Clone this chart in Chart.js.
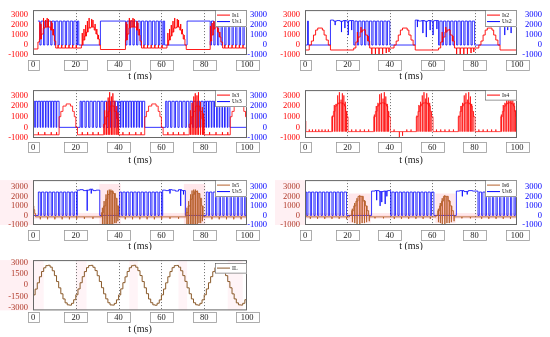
<!DOCTYPE html>
<html>
<head>
<meta charset="utf-8">
<script src="https://cdn.jsdelivr.net/npm/chart.js@4.4.0/dist/chart.umd.min.js"></script>
<style>
  body { margin: 0; background: #fff; width: 550px; height: 337px; position: relative; overflow: hidden; }
  .panel { position: absolute; }
</style>
</head>
<body>
<div class="panel" style="left:0;top:0;width:275px;height:80px"><canvas id="c1"></canvas></div>
<div class="panel" style="left:275px;top:0;width:275px;height:80px"><canvas id="c2"></canvas></div>
<div class="panel" style="left:0;top:80px;width:275px;height:90px"><canvas id="c3"></canvas></div>
<div class="panel" style="left:275px;top:80px;width:275px;height:90px"><canvas id="c4"></canvas></div>
<div class="panel" style="left:0;top:170px;width:275px;height:80px"><canvas id="c5"></canvas></div>
<div class="panel" style="left:275px;top:170px;width:275px;height:80px"><canvas id="c6"></canvas></div>
<div class="panel" style="left:0;top:250px;width:275px;height:87px"><canvas id="c7"></canvas></div>
<script>
// tick values
const xTicks = [0, 20, 40, 60, 80, 100];
const iuTicks = [3000, 2000, 1000, 0, -1000];
const ilTicks = [3000, 1500, 0, -1500, -3000];

// step data: [t (ms), level from t on]; spikes: [t, to] or [t, up, down]
const is1Steps = [[0,-400],[2.3,300],[3.0,600],[3.9,1100],[4.8,1700],[5.6,1800],[8.3,1500],[9.2,1000],[10.0,400],[10.6,-300],
  [22.6,0],[23.4,500],[24.2,900],[25.0,1300],[25.8,1700],[27.0,1800],[28.6,1500],[29.4,1100],[30.2,600],[31.0,0],[31.5,-450],
  [43.2,500],[44.0,1100],[44.8,1700],[45.6,1800],[48.4,1500],[49.2,1000],[50.0,400],[50.7,-300],
  [62.6,0],[63.4,500],[64.2,900],[65.0,1300],[65.8,1700],[67.0,1800],[68.6,1500],[69.4,1100],[70.2,600],[71.0,0],[71.6,-450],
  [82.8,400],[83.5,1000],[84.3,1600],[85.0,1800],[86.2,1300],[87.0,800],[87.8,300],[88.6,-300],[100,-300]];
const is1Spikes = [[3.2,2300],[3.7,2100],[4.9,2700],[5.8,2500],[6.6,2700],[7.2,2600],[8.5,2400],[8.9,2200],[9.6,1600],
  [11.7,0],[13.4,0],[15.1,0],[16.8,0],[18.5,0],[20.2,0],
  [23.0,1200],[23.8,1600],[24.6,2000],[25.4,2400],[26.2,2700],[27.4,2600],[28.0,2500],[29.0,2100],[29.8,1600],[30.6,1000],
  [43.5,2300],[43.9,2100],[45.0,2700],[45.8,2500],[46.7,2700],[47.3,2600],[48.6,2400],[49.0,2200],[49.7,1600],
  [51.8,0],[53.5,0],[55.2,0],[56.9,0],[58.6,0],[60.3,0],
  [63.0,1200],[63.8,1600],[64.6,2000],[65.4,2400],[66.2,2700],[67.4,2600],[68.0,2500],[69.0,2100],[69.8,1600],[70.6,1000],
  [82.9,1900],[83.7,2200],[84.5,2400],[85.1,2300],[85.7,2100],[86.5,1700],[87.3,1300],
  [89.6,0],[91.3,0],[93.0,0],[94.7,0],[96.4,0],[98.1,0]];
const us1Steps = [[2.3,2400],[3.2,0],[3.8,2400],[4.9,0],[5.5,2400],[6.6,0],[7.2,2400],[8.3,0],[8.9,2400],[10.0,0],[10.6,2400],[11.7,0],
  [12.3,2400],[13.4,0],[14.0,2400],[15.1,0],[15.7,2400],[16.8,0],[17.4,2400],[18.5,0],[19.1,2400],[20.2,0],[20.8,2400],[21.4,0],
  [31.5,2400],[43.3,0],[43.9,2400],[45.0,0],[45.6,2400],[46.7,0],[47.3,2400],[48.4,0],[49.0,2400],[50.1,0],[50.7,2400],[51.8,0],
  [52.4,2400],[53.5,0],[54.1,2400],[55.2,0],[55.8,2400],[56.9,0],[57.5,2400],[58.6,0],[59.2,2400],[60.3,0],[60.9,2400],[61.5,0],
  [72.0,2400],[82.8,0],[83.4,2400],[84.5,0],[85.1,2400],[86.2,0],[86.8,2000],[87.9,0],[88.5,2000],[89.6,0],[90.2,2000],[91.3,0],
  [91.9,2000],[93.0,0],[93.6,2000],[94.7,0],[95.3,2000],[96.4,0],[97.0,2000],[98.1,0],[98.7,2000],[99.8,0],[100,0]];

const is2Steps = [[0,-500],[2.0,0],[3.0,400],[4.0,1000],[5.0,1500],[6.0,1700],[8.2,1500],[9.0,1000],[10.0,500],[11.0,0],[12.0,-500],
  [23.0,-300],[24.0,300],[25.0,800],[26.0,1300],[27.0,1500],[28.5,1000],[29.5,400],[30.5,-300],
  [42.0,0],[43.0,400],[44.0,1000],[45.0,1500],[46.0,1700],[48.2,1500],[49.0,1000],[50.0,500],[51.0,0],[52.0,-500],
  [63.0,-300],[64.0,300],[65.0,800],[66.0,1300],[67.0,1500],[68.5,1000],[69.5,400],[70.5,-300],
  [82.0,0],[83.0,400],[84.0,1000],[85.0,1500],[86.0,1700],[88.2,1500],[89.0,1000],[90.0,500],[91.0,0],[92.0,-500],[100,-500]];
const is2Spikes = [[24.7,1300],[26.4,1800],[28.1,1600],[29.8,900],[31.5,-900],[33.2,-1000],[34.9,-900],[36.6,-1000],[38.3,-800],[39.6,-700],
  [64.7,1300],[66.4,1800],[68.1,1600],[69.8,900],[71.5,-900],[73.2,-1000],[74.9,-900],[76.6,-1000],[78.3,-800],[79.6,-700]];
const us2Steps = [[0,0],[1.2,2400],[1.6,0],[12.0,2500],[13.5,2400],[15.0,2450],[16.5,2380],[18.0,2450],[19.5,2400],[21.0,2450],
  [23.0,0],[23.6,2400],[24.7,0],[25.3,2400],[26.4,0],[27.0,2400],[28.1,0],[28.7,2400],[29.8,0],[30.4,2400],[31.5,0],[32.1,2400],
  [33.2,0],[33.8,2400],[34.9,0],[35.5,2400],[36.6,0],[37.2,2400],[38.3,0],[38.9,2400],[40.0,0],
  [52.0,2500],[53.5,2400],[55.0,2450],[56.5,2380],[58.0,2450],[59.5,2400],[61.0,2450],
  [63.0,0],[63.6,2400],[64.7,0],[65.3,2400],[66.4,0],[67.0,2400],[68.1,0],[68.7,2400],[69.8,0],[70.4,2400],[71.5,0],[72.1,2400],
  [73.2,0],[73.8,2400],[74.9,0],[75.5,2400],[76.6,0],[77.2,2400],[78.3,0],[78.9,2400],[80.0,0],
  [92.0,2500],[93.5,2400],[95.0,2450],[96.5,2380],[98.0,2450],[100,2450]];
const us2Spikes = [[14.2,2000],[17.2,1300],[18.8,1700],[20.4,1000],[22.0,1500],[53.0,1800],[55.6,1200],[57.2,800],[59.0,1500],
  [60.4,1000],[62.2,1600],[94.2,1000],[95.6,1500],[97.2,1200],[99.0,1800]];

const is3Steps = [[0,-700],[12.2,1000],[13.0,1500],[14.0,2000],[15.5,2200],[17.5,2000],[18.5,1500],[19.3,1000],[20.0,0],[20.8,-700],
  [33.0,300],[34.0,1000],[35.0,1500],[36.0,2000],[38.0,1500],[39.0,800],[40.0,-700],
  [52.2,1000],[53.0,1500],[54.0,2000],[55.5,2200],[57.5,2000],[58.5,1500],[59.3,1000],[60.0,0],[60.8,-700],
  [73.0,300],[74.0,1000],[75.0,1500],[76.0,2000],[78.0,1500],[79.0,800],[80.0,-700],
  [92.2,1000],[93.0,1500],[94.0,2000],[95.5,2200],[97.5,2000],[98.5,1500],[99.3,1000],[100,200]];
const is3Spikes = [[2.5,-450],[5.5,-450],[8.5,-450],[11.0,-450],[23.0,-450],[25.5,-450],[28.0,-450],[30.5,-450],
  [33.5,1600,-700],[34.3,2400,-700],[35.1,2800,-700],[35.8,3300,-700],[36.6,2900,-700],[37.3,3200,-700],
  [38.2,2500,-700],[39.1,2000,-700],[39.7,1400,-700],
  [42.0,-450],[45.0,-450],[48.0,-450],[50.5,-450],[63.0,-450],[65.5,-450],[68.0,-450],[70.5,-450],
  [73.5,1600,-700],[74.3,2300,-700],[75.1,2900,-700],[75.8,3200,-700],[76.6,3000,-700],[77.3,3300,-700],
  [78.2,2400,-700],[79.1,1900,-700],[79.7,1300,-700],
  [82.5,-450],[85.5,-450],[88.5,-450],[91.0,-450]];
const us3Steps = [[0,2450],[0.8,0],[1.1,2450],[2.0,0],[2.3,2450],[3.3,0],[3.6,2450],[4.5,0],[4.8,2450],[5.8,0],[6.1,2450],[7.0,0],
  [7.3,2450],[8.3,0],[8.6,2450],[9.5,0],[9.8,2450],[10.8,0],[11.1,2450],[12.2,0],
  [22.0,2450],[22.6,0],[23.2,2450],[24.3,0],[24.9,2450],[26.0,0],[26.6,2450],[27.7,0],[28.3,2450],[29.4,0],[30.0,2450],[31.1,0],
  [31.7,2450],[32.8,0],[33.4,2450],[34.5,0],[35.1,2450],[36.2,0],[36.8,2450],[37.9,0],[38.5,2450],[39.5,0],[40.0,2450],
  [40.8,0],[41.1,2450],[42.0,0],[42.3,2450],[43.3,0],[43.6,2450],[44.5,0],[44.8,2450],[45.8,0],[46.1,2450],[47.0,0],[47.3,2450],
  [48.3,0],[48.6,2450],[49.5,0],[49.8,2450],[50.8,0],[51.1,2450],[52.2,0],
  [62.0,2450],[62.6,0],[63.2,2450],[64.3,0],[64.9,2450],[66.0,0],[66.6,2450],[67.7,0],[68.3,2450],[69.4,0],[70.0,2450],[71.1,0],
  [71.7,2450],[72.8,0],[73.4,2450],[74.5,0],[75.1,2450],[76.2,0],[76.8,2450],[77.9,0],[78.5,2450],[79.5,0],[80.0,2450],
  [80.8,0],[81.1,2450],[82.0,0],[82.3,2450],[83.3,0],[83.6,2450],[84.5,0],[84.8,2450],[85.8,0],[86.1,2450],[87.0,0],[87.3,2450],
  [88.3,0],[88.6,2450],[89.5,0],[89.8,2450],[90.8,0],[91.1,2450],[92.0,0],[100,0]];

const is4Steps = [[0,600],[0.4,-400],
  [12.6,1000],[13.4,1500],[14.2,2000],[15.0,2200],[15.8,2300],[17.8,2200],[18.6,2000],[19.2,1500],[19.8,1000],[20.3,-400],
  [32.4,1000],[33.2,1500],[34.0,2000],[34.8,2200],[35.6,2300],[37.6,2200],[38.4,2000],[39.0,1500],[39.6,1000],[40.2,-400],
  [52.5,1000],[53.3,1500],[54.1,2000],[54.9,2200],[55.7,2300],[57.7,2200],[58.5,2000],[59.1,1500],[59.7,1000],[60.4,-400],
  [72.3,1000],[73.1,1500],[73.9,2000],[74.7,2200],[75.5,2300],[77.5,2200],[78.3,2000],[78.9,1500],[79.5,1000],[80.2,-400],
  [92.3,1000],[93.1,1500],[93.9,2000],[94.7,2200],[95.5,2300],[97.5,2200],[98.3,2000],[98.9,1500],[99.5,1000],[100,1000]];
const is4Spikes = [[2.0,-200],[3.5,-200],[5.0,-200],[6.5,-200],[8.0,-200],[9.5,-200],[11.0,-200],
  [12.9,1100,-400],[13.8,2100,-400],[14.6,2200,-400],[15.4,3000,-400],[16.2,3300,-400],[17.0,2600,-400],[17.6,3200,-400],
  [18.3,3000,-400],[19.0,2400,-400],[19.5,1500,-400],
  [22.0,-200],[24.0,-200],[26.0,-200],[28.0,-200],[30.0,-200],
  [32.7,1200,-400],[33.6,2000,-400],[34.4,2300,-400],[35.2,3100,-400],[36.0,3200,-400],[36.8,2700,-400],[37.4,3300,-400],
  [38.1,2900,-400],[38.8,2200,-400],[39.3,1500,-400],
  [42.0,-200],[44.5,-1000],[46.0,-800],[48.0,-200],[50.0,-200],
  [52.8,1100,-400],[53.7,2100,-400],[54.5,2400,-400],[55.3,3000,-400],[56.1,3300,-400],[56.9,2700,-400],[57.4,3200,-400],
  [58.2,2800,-400],[58.8,2300,-400],[59.4,1400,-400],
  [62.0,-200],[64.0,-200],[66.0,-200],[68.0,-200],[70.0,-200],
  [72.6,1100,-400],[73.5,2000,-400],[74.3,2300,-400],[75.1,3000,-400],[75.9,3200,-400],[76.7,2600,-400],[77.2,3300,-400],
  [78.0,2900,-400],[78.6,2200,-400],[79.2,1500,-400],
  [82.0,-200],[84.0,-200],[86.0,-200],[88.0,-200],[90.0,-200],
  [92.6,1200,-400],[93.5,2100,-400],[94.3,2300,-400],[95.1,3000,-400],[95.9,3300,-400],[96.7,2700,-400],[97.2,3200,-400],
  [98.0,2900,-400],[98.6,2300,-400],[99.2,1600,-400]];

const is5Steps = [[0,1000],[0.4,600],[0.8,200],[1.2,-150],
  [32.0,300],[33.0,1000],[34.0,1700],[35.0,2200],[36.0,2500],[37.5,2300],[38.5,1800],[39.3,1000],[40.0,-150],
  [71.5,300],[72.5,1000],[73.5,1700],[74.5,2200],[75.5,2500],[77.0,2300],[78.0,1800],[78.8,1000],[79.5,-150],[100,-150]];
const is5Spikes = [[3.4,-400],[6.8,-400],[10.2,-400],[13.6,-400],[17.0,-400],[20.4,-400],[24.0,-350],[28.0,-350],
  [32.4,800,-900],[33.2,1500,-900],[34.1,2200,-1000],[34.8,2600,-900],[35.6,2700,-1000],[36.4,2700,-900],[37.2,2600,-900],
  [38.1,2300,-800],[38.8,1600,-800],[39.6,900,-600],
  [43.1,-400],[46.5,-400],[49.9,-400],[53.3,-400],[56.7,-400],[60.1,-400],[64.0,-350],[68.0,-350],
  [71.9,800,-900],[72.7,1500,-900],[73.6,2200,-1000],[74.3,2600,-900],[75.1,2700,-1000],[75.9,2700,-900],[76.7,2600,-900],
  [77.5,2300,-800],[78.3,1600,-800],[79.1,900,-600],
  [83.6,-400],[87.0,-400],[90.4,-400],[93.8,-400],[97.2,-400]];
const us5Steps = [[0,0],[2.5,2450],[3.4,0],[4.0,2450],[5.1,0],[5.7,2450],[6.8,0],[7.4,2450],[8.5,0],[9.1,2450],[10.2,0],[10.8,2450],
  [11.9,0],[12.5,2450],[13.6,0],[14.2,2450],[15.3,0],[15.9,2450],[17.0,0],[17.6,2450],[18.7,0],[19.3,2450],[20.4,0],
  [20.7,2650],[22.0,2700],[23.5,2600],[25.0,2650],[26.5,2750],[28.0,2600],[29.5,2650],[31.2,0],
  [40.5,2450],[41.4,0],[42.0,2450],[43.1,0],[43.7,2450],[44.8,0],[45.4,2450],[46.5,0],[47.1,2450],[48.2,0],[48.8,2450],[49.9,0],
  [50.5,2450],[51.6,0],[52.2,2450],[53.3,0],[53.9,2450],[55.0,0],[55.6,2450],[56.7,0],[57.3,2450],[58.4,0],[59.0,2450],[60.1,0],
  [60.6,2650],[62.0,2600],[63.5,2700],[65.0,2650],[66.5,2550],[68.0,2700],[69.5,2600],[71.2,0],
  [81.0,2450],[81.9,0],[82.5,2450],[83.6,0],[84.2,2450],[85.3,0],[85.9,2450],[87.0,0],[87.6,2450],[88.7,0],[89.3,2450],[90.4,0],
  [91.0,2450],[92.1,0],[92.7,2450],[93.8,0],[94.4,2450],[95.5,0],[96.1,2450],[97.2,0],[97.8,2450],[98.9,0],[99.5,2450],[100,2450]];
const us5Spikes = [[25.3,500],[27.2,2300],[64.0,2300],[69.0,1000],[70.3,2200]];

const is6Steps = [[0,0],[0.6,-150],
  [21.0,0],[22.0,500],[23.0,1000],[24.0,1500],[25.0,2000],[27.5,1500],[28.5,1000],[29.3,500],[30.0,0],[30.6,-150],
  [61.8,0],[62.6,500],[63.5,1000],[64.4,1500],[65.3,2000],[67.6,1500],[68.5,1000],[69.3,500],[70.0,0],[70.6,-150],[100,-150]];
const is6Spikes = [[2.5,-350],[5.9,-350],[9.3,-350],[12.7,-350],[16.1,-350],[19.6,-400],
  [22.3,700,-700],[23.4,1300,-800],[24.5,1800,-900],[25.8,2100,-900],[26.9,2000,-800],[28.0,1600,-800],[29.0,1000,-700],[30.3,-600],
  [33.0,-300],[37.0,-300],[42.1,-350],[45.5,-350],[48.9,-350],[52.3,-350],[55.7,-350],[59.1,-350],
  [62.9,700,-700],[63.8,1300,-800],[64.7,1800,-900],[65.9,2100,-900],[66.9,2000,-800],[68.0,1600,-800],[69.0,1000,-700],[70.3,-600],
  [74.0,-300],[78.0,-300],[83.3,-350],[86.7,-350],[90.1,-350],[93.5,-350],[96.9,-350]];
const us6Steps = [[0,2450],[0.8,0],[1.4,2450],[2.5,0],[3.1,2450],[4.2,0],[4.8,2450],[5.9,0],[6.5,2450],[7.6,0],[8.2,2450],[9.3,0],
  [9.9,2450],[11.0,0],[11.6,2450],[12.7,0],[13.3,2450],[14.4,0],[15.0,2450],[16.1,0],[16.7,2450],[17.8,0],[18.4,2450],[19.6,0],
  [31.4,2550],[33.0,2600],[35.0,2500],[37.0,2550],[39.0,2600],[40.4,0],
  [41.0,2450],[42.1,0],[42.7,2450],[43.8,0],[44.4,2450],[45.5,0],[46.1,2450],[47.2,0],[47.8,2450],[48.9,0],[49.5,2450],[50.6,0],
  [51.2,2450],[52.3,0],[52.9,2450],[54.0,0],[54.6,2450],[55.7,0],[56.3,2450],[57.4,0],[58.0,2450],[59.1,0],[59.7,2450],[60.8,0],
  [71.4,2550],[73.0,2600],[75.0,2500],[77.0,2600],[79.0,2550],[81.6,0],
  [82.2,2450],[83.3,0],[83.9,2450],[85.0,0],[85.6,2450],[86.7,0],[87.3,2450],[88.4,0],[89.0,2450],[90.1,0],[90.7,2450],[91.8,0],
  [92.4,2450],[93.5,0],[94.1,2450],[95.2,0],[95.8,2450],[96.9,0],[97.5,2450],[98.6,0],[99.2,2450],[100,2450]];
const us6Spikes = [[33.8,1600],[35.4,1000],[36.2,1400],[37.8,1200],[38.6,2000],[74.2,2000],[76.5,2200]];

// IL sampled every 1 ms, t = 0..100
const ilValues = [-1300,-520,330,1150,1860,2360,2650,2700,2450,1960,1300,500,-350,-1150,-1850,-2380,-2650,-2690,-2440,-1960,
  -1290,-500,340,1160,1850,2380,2660,2690,2430,1980,1290,510,-330,-1160,-1840,-2370,-2660,-2680,-2450,-1970,
  -1310,-490,350,1140,1860,2370,2640,2700,2440,1970,1310,500,-340,-1140,-1860,-2360,-2650,-2700,-2430,-1980,
  -1300,-510,330,1150,1850,2380,2650,2680,2450,1960,1300,520,-350,-1150,-1850,-2370,-2640,-2690,-2440,-1970,
  -1290,-500,340,1160,1840,2370,2660,2690,2440,1970,1300,500,-340,-1160,-1850,-2380,-2650,-2680,-2440,-1960,-1300];

// shaded bands [t0, t1, v0, v1]
const bands5 = [[31,41,-950,3300],[70.5,80.5,-950,3300],[0,100,-350,250]];
const bands6 = [[20.5,31,-800,2300],[61.5,71,-800,2300],[0,100,-350,250]];
const bands7 = [[0,5,-3400,3400],[20,25,-3400,3400],[45,49,-3400,3400],[68,72,-3400,3400],[91,98,-3400,3400]];

Chart.defaults.font.family = "'Liberation Serif', 'Times New Roman', serif";

function toPoints(steps, spikes) {
  const pts = steps.map(([x, y]) => ({x, y}));
  (spikes || []).forEach(([t, a, b]) => {
    let i = pts.findIndex(p => p.x > t);
    if (i < 0) i = pts.length;
    const base = pts[i - 1].y;
    pts.splice(i, 0, {x: t, y: a}, {x: t + 0.04, y: b === undefined ? base : b}, {x: t + 0.08, y: base});
  });
  return pts;
}

const RED = '#ff0000', BLUE = '#0000ff', BROWN = '#b5602a', DARKRED = '#b03a2a';

function decorFor(cfg) {
  return {
    id: 'decor',
    beforeDraw(chart) {
      if (!cfg.marginPink) return;
      const {ctx, chartArea: a} = chart;
      ctx.save();
      ctx.fillStyle = 'rgba(255,205,215,0.3)';
      ctx.fillRect(0, a.top, a.left, a.bottom - a.top);
      ctx.restore();
    },
    beforeDatasetsDraw(chart) {
      const {ctx, chartArea: a, scales: {x, y}} = chart;
      ctx.save();
      ctx.beginPath();
      ctx.rect(a.left, a.top, a.right - a.left, a.bottom - a.top);
      ctx.clip();
      (cfg.bands || []).forEach(([t0, t1, v0, v1]) => {
        ctx.fillStyle = cfg.bandColor;
        const px0 = x.getPixelForValue(t0), px1 = x.getPixelForValue(t1);
        const py0 = y.getPixelForValue(v1), py1 = y.getPixelForValue(v0);
        ctx.fillRect(px0, py0, px1 - px0, py1 - py0);
      });
      ctx.strokeStyle = '#444';
      ctx.lineWidth = 0.8;
      ctx.setLineDash([1, 2]);
      xTicks.slice(1, -1).forEach(v => {
        const px = Math.round(x.getPixelForValue(v)) + 0.5;
        ctx.beginPath(); ctx.moveTo(px, a.top); ctx.lineTo(px, a.bottom); ctx.stroke();
      });
      ctx.restore();
    },
    afterDatasetsDraw(chart) {
      const {ctx, chartArea: a, scales: {x}} = chart;
      ctx.save();
      ctx.strokeStyle = '#666';
      ctx.lineWidth = 1;
      ctx.strokeRect(a.left + 0.5, a.top + 0.5, a.right - a.left - 1, a.bottom - a.top - 1);

      // legend in the top right corner
      const n = cfg.series.length, lw = 32, lh = 4 + n * 6.5;
      const lx = a.right - lw, ly = a.top + (cfg.legendDy || 0);
      ctx.fillStyle = '#fff';
      ctx.fillRect(lx, ly, lw, lh);
      ctx.strokeStyle = '#555';
      ctx.lineWidth = 0.6;
      ctx.strokeRect(lx + 0.5, ly + 0.5, lw - 1, lh - 1);
      ctx.font = "6px 'Liberation Serif'";
      ctx.textBaseline = 'middle';
      ctx.textAlign = 'left';
      cfg.series.forEach((s, i) => {
        const yy = ly + 5 + i * 6.5;
        ctx.strokeStyle = s.color;
        ctx.lineWidth = 1;
        ctx.beginPath(); ctx.moveTo(lx + 2, yy); ctx.lineTo(lx + 15, yy); ctx.stroke();
        ctx.fillStyle = '#222';
        ctx.fillText(s.label, lx + 17, yy);
      });

      // boxed x tick labels
      ctx.font = "8.5px 'Liberation Serif'";
      ctx.textAlign = 'center';
      xTicks.forEach(v => {
        const px = x.getPixelForValue(v), w = v === 0 ? 11 : 23, top = a.bottom + cfg.boxGap;
        ctx.fillStyle = '#fff';
        ctx.fillRect(px - w / 2, top, w, 10);
        ctx.strokeStyle = '#999';
        ctx.lineWidth = 0.8;
        ctx.strokeRect(Math.round(px - w / 2) + 0.5, Math.round(top) + 0.5, w, 10);
        ctx.fillStyle = '#222';
        ctx.fillText(String(v), px, top + 5.5);
      });
      ctx.font = "10px 'Liberation Serif'";
      ctx.fillText('t (ms)', (a.left + a.right) / 2, a.bottom + cfg.titleGap);
      ctx.restore();
    }
  };
}

function yScale(cfg, position, color, width) {
  const right = position === 'right';
  return {
    position,
    min: cfg.yMin,
    max: cfg.yMax,
    afterBuildTicks: s => { s.ticks = cfg.yTicks.map(v => ({value: v})); },
    afterFit: s => { s.width = width; },
    grid: {display: false, drawTicks: false},
    border: {display: false},
    ticks: {
      color,
      autoSkip: false,
      font: {size: 8.5},
      padding: right ? 0 : 5,
      crossAlign: right ? 'far' : 'near',
      callback: v => String(v)
    }
  };
}

function panel(id, cfg) {
  const datasets = cfg.series.map(s => ({
    label: s.label,
    data: s.data,
    borderColor: s.color,
    borderWidth: s.width || 0.8,
    pointRadius: 0,
    stepped: true,
    fill: s.fill || false,
    backgroundColor: 'rgba(0,0,0,0)'
  }));
  const scales = {
    x: {
      type: 'linear', min: 0, max: 100,
      grid: {display: false}, border: {display: false}, ticks: {display: false},
      afterFit: s => { s.height = cfg.h - cfg.bottom; }
    },
    y: yScale(cfg, 'left', cfg.leftColor, cfg.left)
  };
  if (cfg.rightColor) scales.y2 = yScale(cfg, 'right', cfg.rightColor, cfg.y2w);
  new Chart(document.getElementById(id), {
    type: 'line',
    data: {datasets},
    options: {
      responsive: true,
      maintainAspectRatio: false,
      animation: false,
      layout: {padding: {top: cfg.top, right: cfg.padR, left: 0, bottom: 0}},
      plugins: {legend: {display: false}, tooltip: {enabled: false}},
      scales
    },
    plugins: [decorFor(cfg)]
  });
}

const fillUp = c => ({target: {value: 0}, above: c, below: 'rgba(0,0,0,0)'});

panel('c1', {h: 80, top: 5, bottom: 55, left: 33, y2w: 20, padR: 8, yMin: -1000, yMax: 3500, yTicks: iuTicks,
  leftColor: RED, rightColor: BLUE, boxGap: 4.5, titleGap: 21,
  series: [{label: 'Is1', color: RED, width: 0.9, data: toPoints(is1Steps, is1Spikes)},
           {label: 'Us1', color: BLUE, data: toPoints(us1Steps)}]});
panel('c2', {h: 80, top: 5, bottom: 55, left: 30, y2w: 25, padR: 8, yMin: -1000, yMax: 3500, yTicks: iuTicks,
  leftColor: RED, rightColor: BLUE, boxGap: 4.5, titleGap: 21,
  series: [{label: 'Is2', color: RED, width: 0.9, data: toPoints(is2Steps, is2Spikes)},
           {label: 'Us2', color: BLUE, data: toPoints(us2Steps, us2Spikes)}]});
panel('c3', {h: 90, top: 10, bottom: 58, left: 33, y2w: 20, padR: 8, yMin: -1000, yMax: 3500, yTicks: iuTicks,
  leftColor: RED, rightColor: BLUE, boxGap: 4, titleGap: 22,
  series: [{label: 'Is3', color: RED, width: 0.8, data: toPoints(is3Steps, is3Spikes)},
           {label: 'Us3', color: BLUE, data: toPoints(us3Steps)}]});
panel('c4', {h: 90, top: 10, bottom: 58, left: 30, padR: 33, yMin: -1000, yMax: 3500, yTicks: iuTicks,
  leftColor: RED, boxGap: 4, titleGap: 22,
  series: [{label: 'Is4', color: RED, width: 0.7, data: toPoints(is4Steps, is4Spikes)}]});
panel('c5', {h: 80, top: 3, bottom: 55, left: 33, y2w: 20, padR: 8, yMin: -1000, yMax: 3700, yTicks: iuTicks,
  leftColor: DARKRED, rightColor: BLUE, boxGap: 5, titleGap: 21, marginPink: true,
  bands: bands5, bandColor: 'rgba(255,175,190,0.3)',
  series: [{label: 'Is5', color: BROWN, width: 0.9, fill: fillUp('rgba(255,110,110,0.3)'), data: toPoints(is5Steps, is5Spikes)},
           {label: 'Us5', color: BLUE, data: toPoints(us5Steps, us5Spikes)}]});
panel('c6', {h: 80, top: 3, bottom: 55, left: 30, y2w: 25, padR: 8, yMin: -1000, yMax: 3700, yTicks: iuTicks,
  leftColor: DARKRED, rightColor: BLUE, boxGap: 5, titleGap: 21, marginPink: true,
  bands: bands6, bandColor: 'rgba(255,175,190,0.3)',
  series: [{label: 'Is6', color: BROWN, width: 0.9, fill: fillUp('rgba(255,110,110,0.35)'), data: toPoints(is6Steps, is6Spikes)},
           {label: 'Us6', color: BLUE, data: toPoints(us6Steps, us6Spikes)}]});
panel('c7', {h: 87, top: 7.6, bottom: 60.4, left: 33, padR: 28, yMin: -3400, yMax: 3400, yTicks: ilTicks,
  leftColor: DARKRED, boxGap: 1.5, titleGap: 19, marginPink: true, legendDy: 3,
  bands: bands7, bandColor: 'rgba(255,195,210,0.18)',
  series: [{label: 'IL', color: '#8a5a2a', width: 1, data: ilValues.map((v, t) => ({x: t, y: v}))}]});
</script>
</body>
</html>
